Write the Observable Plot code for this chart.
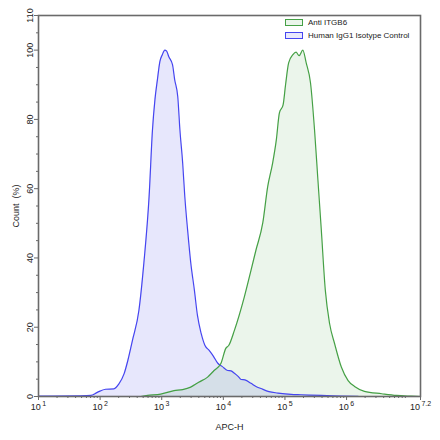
<!DOCTYPE html>
<html>
<head>
<meta charset="utf-8">
<script src="https://cdn.jsdelivr.net/npm/d3@7"></script>
<script src="https://cdn.jsdelivr.net/npm/@observablehq/plot@0.6"></script>
<style>
  html, body { margin: 0; padding: 0; background: #fff; }
  #wrap { position: relative; width: 440px; height: 440px; font-family: "Liberation Sans", Arial, sans-serif; }
  .leg { position: absolute; left: 285px; font-size: 8px; color: #222; display: flex; align-items: center; white-space: nowrap; }
  .sw { width: 16px; height: 5px; border: 1px solid; margin-right: 5px; }
</style>
</head>
<body>
<div id="wrap"></div>
<script>
// Series names
const seriesNames = ["Anti ITGB6", "Human IgG1 Isotype Control"];
const seriesStroke = ["#45a045", "#4545f0"];

// Isotype control: log10(APC-H) and Count (%)
const isoLog = [1.0, 1.68, 1.85, 1.955, 2.09, 2.225, 2.30, 2.39, 2.45, 2.525, 2.63, 2.71, 2.795, 2.85, 2.89, 2.93, 2.97, 3.01, 3.05, 3.08, 3.115, 3.175, 3.21, 3.26, 3.295, 3.34, 3.375, 3.42, 3.47, 3.53, 3.58, 3.64, 3.70, 3.77, 3.84, 3.91, 3.98, 4.07, 4.125, 4.18, 4.24, 4.29, 4.35, 4.45, 4.53, 4.61, 4.74, 4.885, 5.10, 5.26, 5.59, 5.91, 6.2];
const isoCount = [0.1, 0.2, 0.3, 1.2, 2.1, 2.2, 3.5, 6.6, 10.4, 16.2, 24.9, 38.5, 57.7, 77.0, 85.7, 91.5, 96.7, 98.7, 100, 99.7, 98.1, 95.8, 91.5, 86.6, 77.0, 67.4, 57.6, 48.1, 38.8, 30.7, 23.4, 18.2, 14.8, 13.3, 11.6, 9.6, 8.7, 7.5, 7.4, 6.7, 5.8, 4.9, 4.8, 3.8, 2.9, 2.3, 1.4, 1.0, 0.6, 0.5, 0.3, 0.15, 0];

// Anti ITGB6: log10(APC-H) and Count (%)
const itgLog = [2.66, 2.77, 2.985, 3.20, 3.34, 3.47, 3.60, 3.745, 3.85, 3.96, 4.04, 4.09, 4.18, 4.34, 4.45, 4.53, 4.64, 4.72, 4.80, 4.86, 4.91, 4.97, 5.01, 5.06, 5.13, 5.18, 5.23, 5.29, 5.345, 5.415, 5.48, 5.535, 5.59, 5.655, 5.725, 5.805, 5.915, 6.025, 6.13, 6.29, 6.57, 6.81, 7.05, 7.2];
const itgCount = [0, 0.3, 0.7, 1.7, 2.0, 2.7, 4.1, 5.6, 7.5, 9.5, 13.9, 14.8, 19.1, 28.7, 36.5, 42.3, 50.1, 60.6, 67.4, 74.1, 81.9, 84.2, 90.0, 96.3, 98.7, 99.4, 98.4, 100, 96.3, 90.5, 77.0, 62.5, 48.1, 30.7, 21.0, 15.3, 8.5, 4.6, 2.9, 1.5, 0.8, 0.3, 0.1, 0];

// Axis ticks
const xMajor = [1, 2, 3, 4, 5, 6, 7.2];
const yMajor = [0, 20, 40, 60, 80, 100, 110];
const yMinor = [5, 10, 15, 25, 30, 35, 45, 50, 55, 65, 70, 75, 85, 90, 95, 105];
const xMinorMultipliers = [2, 3, 4, 5, 6, 7, 8, 9];

const xMinor = [];
for (let d = 1; d <= 7; d++) for (const k of xMinorMultipliers) {
  const v = d + Math.log10(k);
  if (v < 7.2) xMinor.push(v);
}

const iso = isoLog.map((x, i) => ({x, y: isoCount[i]}));
const itg = itgLog.map((x, i) => ({x, y: itgCount[i]}));

const axisColor = "#6a6a6a";
const curve = "monotone-x";

const chart = Plot.plot({
  width: 440,
  height: 440,
  marginLeft: 38,
  marginRight: 20,
  marginTop: 15,
  marginBottom: 44,
  style: {fontFamily: "Liberation Sans, Arial, sans-serif", fontSize: "9px", color: "#222", background: "#fff"},
  x: {type: "linear", domain: [1, 7.2]},
  y: {domain: [0, 110]},
  marks: [
    Plot.areaY(iso, {x: "x", y: "y", fill: "#3c3ce6", fillOpacity: 0.12, curve}),
    Plot.areaY(itg, {x: "x", y: "y", fill: "#3ca03c", fillOpacity: 0.1, curve}),
    Plot.lineY(iso, {x: "x", y: "y", stroke: seriesStroke[1], strokeWidth: 1.2, curve}),
    Plot.lineY(itg, {x: "x", y: "y", stroke: seriesStroke[0], strokeWidth: 1.2, curve}),
    Plot.axisX({ticks: xMinor, tickSize: 2, tickFormat: () => "", stroke: axisColor, label: null}),
    Plot.axisX({ticks: xMajor, tickSize: 4, tickPadding: 3, tickFormat: d => "10^" + d, stroke: axisColor, label: "APC-H", labelAnchor: "center", labelArrow: "none", labelOffset: 33}),
    Plot.axisY({ticks: yMinor, tickSize: 2, tickFormat: () => "", stroke: axisColor, label: null}),
    Plot.axisY({ticks: yMajor, tickSize: 4, tickPadding: 2, tickRotate: -90, stroke: axisColor, label: "Count  (%)", labelAnchor: "center", labelArrow: "none", labelOffset: 26}),
    Plot.frame({stroke: axisColor, strokeWidth: 1.6})
  ]
});

// superscript exponents on x tick labels
d3.select(chart).selectAll("text").each(function() {
  const t = this.textContent;
  if (/^10\^/.test(t)) {
    const e = t.slice(3);
    const sel = d3.select(this);
    sel.text("");
    sel.append("tspan").text("10");
    sel.append("tspan").attr("dx", "1.5").attr("dy", "-4").attr("font-size", "7px").text(e);
  }
});

const wrap = document.getElementById("wrap");
wrap.appendChild(chart);

const legTops = [18, 31];
[0, 1].forEach(i => {
  const div = document.createElement("div");
  div.className = "leg";
  div.style.top = legTops[i] + "px";
  const sw = document.createElement("div");
  sw.className = "sw";
  sw.style.borderColor = seriesStroke[i];
  sw.style.background = i === 0 ? "#eaf5ea" : "#e8e8fc";
  div.appendChild(sw);
  const sp = document.createElement("span");
  sp.textContent = seriesNames[i];
  div.appendChild(sp);
  wrap.appendChild(div);
});
</script>
</body>
</html>
